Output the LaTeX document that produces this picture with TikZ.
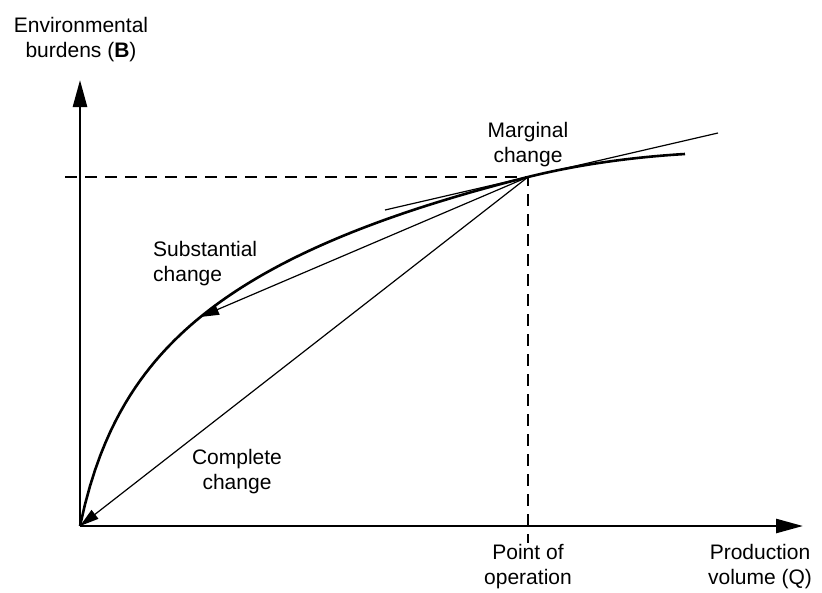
\documentclass[tikz,border=0pt]{standalone}
\usepackage{fontspec}
\setmainfont{Liberation Sans}
\usetikzlibrary{arrows.meta}
\begin{document}
\begin{tikzpicture}[x=1pt,y=-1pt,
  axis/.style={line width=2.6pt,-{Triangle[length=27pt,width=14pt]}},
  ray/.style={line width=1.2pt,-{Triangle[length=19pt,width=11pt]}},
  guide/.style={line width=1.2pt,dash pattern=on 12pt off 8pt},
  lbl/.style={font=\fontsize{21}{25}\selectfont,align=center,inner sep=0pt}]
\useasboundingbox (0,0) rectangle (822,592);
\coordinate (O) at (80,526);
\coordinate (Ytip) at (80,80);
\coordinate (Xtip) at (803,526);
\coordinate (M) at (528,177);% point of operation
\coordinate (S) at (200,317);
\coordinate (E) at (685,154);
\coordinate (T1) at (385,210);
\coordinate (T2) at (718,133);
\coordinate (H) at (65,177);
\coordinate (V) at (528,543);
% axes
\draw[axis] (O) -- (Ytip);
\draw[axis] (O) -- (Xtip);
% dashed guides
\draw[guide] (H) -- (M) -- (V);
% burden curve
\draw[line width=2.6pt] plot[domain=0:448,samples=90] ({80+\x},{526-118.7*ln(1+\x/25)})
  .. controls (580,164) and (635,157) .. (E);
% tangent
\draw[line width=1.2pt] (T1) -- (T2);
% changes
\draw[ray] (M) -- (S);
\draw[ray] (M) -- (O);
% labels
\node[lbl] (ylab) at (81,40) {Environmental\\burdens (\textbf{B})};
\node[lbl] (marg) at (528,145) {Marginal\\change};
\node[lbl,align=left,anchor=west] (subst) at (153,264) {Substantial\\change};
\node[lbl] (compl) at (237,472) {Complete\\change};
\node[lbl] (oper) at (528,567) {Point of\\operation};
\node[lbl] (xlab) at (760,567) {Production\\volume (Q)};
\end{tikzpicture}
\end{document}
